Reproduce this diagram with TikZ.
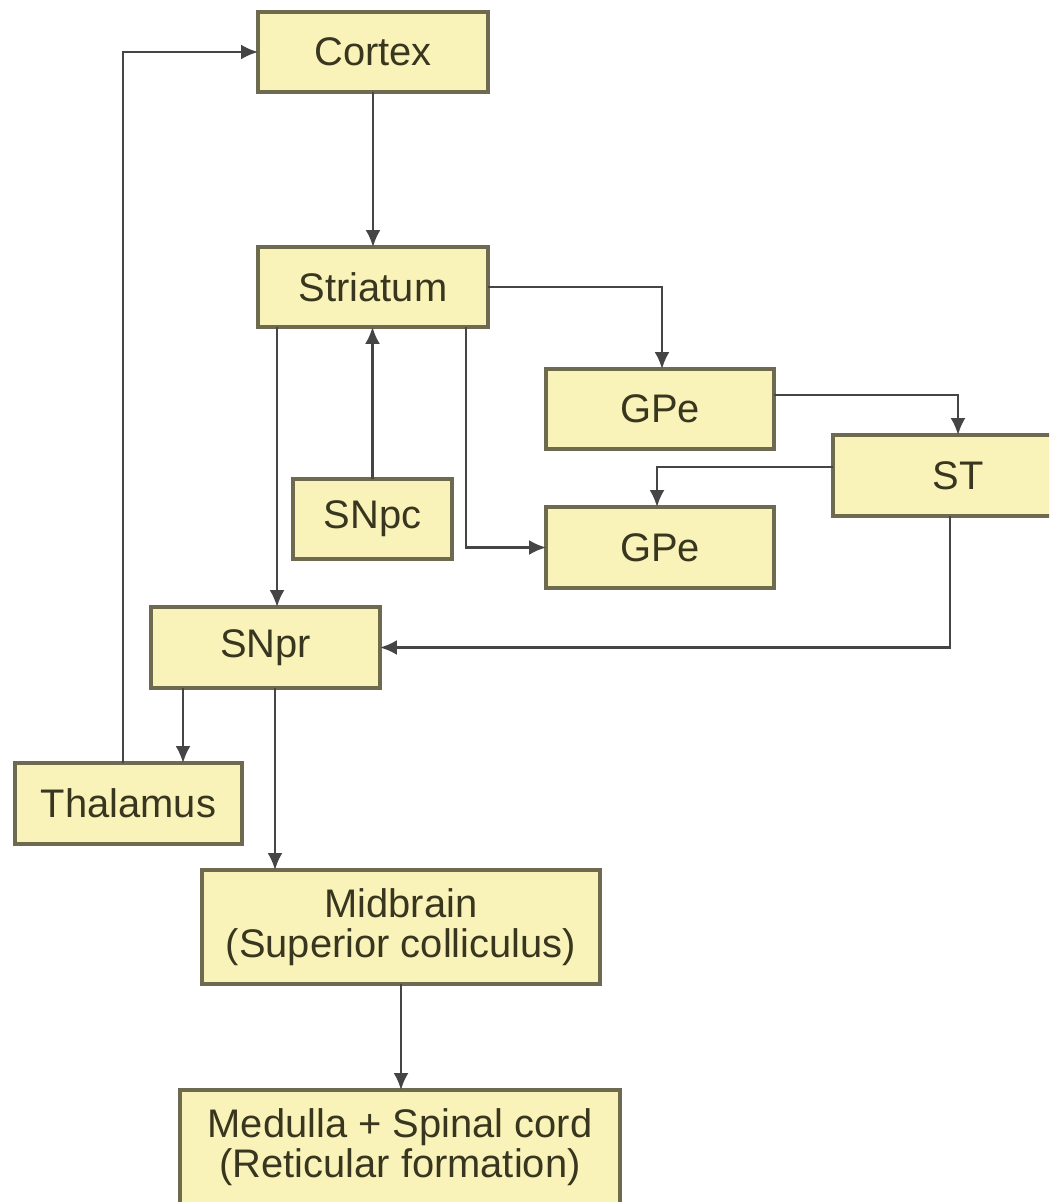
\documentclass[tikz,border=0pt]{standalone}
\usepackage{fontspec}
\newfontfamily\arialfont{Liberation Sans}
\usetikzlibrary{arrows.meta,calc}
\definecolor{boxfill}{HTML}{FAF3B9}
\definecolor{boxline}{HTML}{6E6A50}
\definecolor{txtcol}{HTML}{38361F}
\definecolor{linecol}{HTML}{454545}
\tikzset{
  box/.style={draw=boxline, fill=boxfill, line width=1.8pt, inner sep=0pt, outer sep=0pt,
    text=txtcol, align=center, font=\arialfont\fontsize{22.7}{22.8}\selectfont},
  arr/.style={draw=linecol, line width=1.4pt, -{Latex[length=0.34cm,width=0.3cm]}}
}
\begin{document}
\begin{tikzpicture}[x=0.02cm,y=-0.02cm]
\useasboundingbox (0,0) rectangle (1049,1202);
\fill[white] (0,0) rectangle (1049,1202);
\clip (0,0) rectangle (1049,1202);
% nodes
\node[box, minimum width=4.6cm, minimum height=1.6cm] (cortex) at (373,52) {Cortex};
\node[box, minimum width=4.6cm, minimum height=1.6cm] (striatum) at (373,287) {Striatum};
\node[box, minimum width=4.56cm, minimum height=1.6cm] (gpe1) at (660,409) {GPe};
\node[box, minimum width=5.0cm, minimum height=1.62cm] (st) at (958,475.5) {ST};
\node[box, minimum width=3.18cm, minimum height=1.6cm] (snpc) at (372.5,519) {SNpc};
\node[box, minimum width=4.56cm, minimum height=1.62cm] (gpe2) at (660,547.5) {GPe};
\node[box, minimum width=4.58cm, minimum height=1.62cm] (snpr) at (265.5,647.5) {SNpr};
\node[box, minimum width=4.54cm, minimum height=1.62cm] (thal) at (128.5,803.5) {Thalamus};
\node[box, minimum width=7.96cm, minimum height=2.28cm] (mid) at (401,927) {Midbrain\\(Superior colliculus)};
\node[box, minimum width=8.8cm, minimum height=2.28cm] (med) at (400,1147) {Medulla + Spinal cord\\(Reticular formation)};
% connectors
\draw[arr] (cortex.south) -- (striatum.north);
\draw[arr] ([xshift=-0.11cm]thal.north) |- (cortex.west);
\draw[arr] (striatum.east) -| ([xshift=0.04cm]gpe1.north);
\draw[arr] ([yshift=0.28cm]gpe1.east) -| (st.north);
\draw[arr] ([yshift=0.17cm]st.west) -| ([xshift=-0.06cm]gpe2.north);
\draw[arr] ([xshift=1.86cm]striatum.south) |- (gpe2.west);
\draw[arr] (snpc.north) -- (snpc.north |- striatum.south);
\coordinate (sl) at ([xshift=-1.92cm]striatum.south);
\draw[arr] (sl) -- (sl |- snpr.north);
\draw[arr] ([xshift=-0.16cm]st.south) |- (snpr.east);
\coordinate (pl) at ([xshift=-1.65cm]snpr.south);
\draw[arr] (pl) -- (pl |- thal.north);
\coordinate (pr) at ([xshift=0.19cm]snpr.south);
\draw[arr] (pr) -- (pr |- mid.north);
\draw[arr] (mid.south) -- (mid.south |- med.north);
\end{tikzpicture}
\end{document}
